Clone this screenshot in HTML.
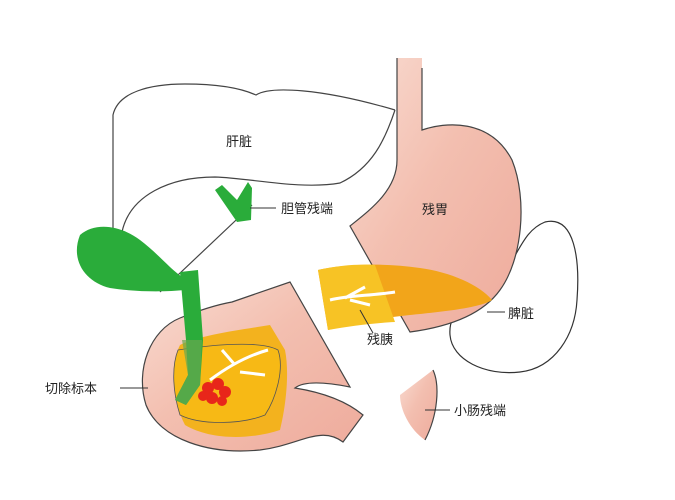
<!DOCTYPE html>
<html><head><meta charset="utf-8"><style>
html,body{margin:0;padding:0;background:#fff;}
svg{display:block;}
text{font-family:"Liberation Sans","Noto Sans CJK SC",sans-serif;font-size:13px;fill:#222;}
</style></head><body>
<svg width="675" height="500" viewBox="0 0 675 500" xmlns="http://www.w3.org/2000/svg">
<defs>
<linearGradient id="pk" x1="0" y1="0" x2="1" y2="1">
<stop offset="0" stop-color="#f9dcd2"/><stop offset="0.45" stop-color="#f3bfb0"/><stop offset="1" stop-color="#eeab9c"/>
</linearGradient>
</defs>
<!-- Liver -->
<path d="M113,232 L113,115 C118,92 150,84 185,84 C225,84 245,90 256,95 C270,86 320,88 395,110" fill="none" stroke="#444" stroke-width="1.2"/>
<path d="M395,110 C385,140 372,168 340,183 C300,190 250,178 215,177 C170,177 130,195 122,232" fill="none" stroke="#444" stroke-width="1.2"/>
<path d="M160,292 L252,205" fill="none" stroke="#444" stroke-width="1.2"/>
<!-- Spleen -->
<path d="M505,272 C520,250 525,230 545,222 C575,215 580,260 577,300 C575,335 555,368 520,372 C485,376 452,360 450,335 C448,310 470,300 490,300" fill="#fff" stroke="#333" stroke-width="1.2"/>
<!-- Stomach -->
<path d="M397,58 L422,58 L422,130 C445,122 490,118 512,160 C528,200 522,260 500,290 C480,318 440,328 410,332 L350,226 C370,210 397,190 397,160 Z" fill="url(#pk)" stroke="none"/>
<path d="M397,58 L397,160 C397,190 370,210 350,226 L410,332 C440,328 480,318 500,290 C522,260 528,200 512,160 C490,118 445,122 422,130 L422,68" fill="none" stroke="#444" stroke-width="1.2"/>
<!-- Pancreas -->
<path d="M318,270 C340,265 380,262 420,268 C450,272 480,285 492,300 C480,308 440,312 410,315 C380,318 360,322 328,330 Z" fill="#f2a51a"/>
<path d="M318,270 C340,265 360,264 375,265 L395,322 C375,323 350,326 328,330 Z" fill="#f7c325"/>
<path d="M330,300 C350,295 370,296 395,292 M345,298 L365,287 M350,300 L370,305" stroke="#fff" stroke-width="3" fill="none"/>
<path d="M360,310 L373,333" stroke="#333" stroke-width="1"/>
<!-- Duodenum -->
<path d="M232,302 L290,282 L350,387 C330,383 305,380 295,388 C320,392 345,400 363,415 L343,442 C320,425 300,445 260,450 C210,455 160,440 146,405 C135,370 150,330 180,318 C200,310 215,305 232,302 Z" fill="url(#pk)" stroke="#444" stroke-width="1.2"/>
<!-- pancreas head -->
<path d="M180,345 C200,335 240,330 270,325 L285,350 C290,375 285,410 280,430 C250,440 210,440 185,425 C172,400 170,365 180,345 Z" fill="#f3b21e"/>
<path d="M178,350 C210,345 260,340 278,350 C285,370 275,400 265,415 C240,425 200,425 180,415 C172,390 172,365 178,350 Z" fill="#f7b915" stroke="#555" stroke-width="0.8"/>
<path d="M210,380 C230,365 250,355 268,350 M235,365 L222,350 M240,372 L265,375" stroke="#fff" stroke-width="3" fill="none"/>
<!-- gallbladder & ducts -->
<path d="M80,235 C95,222 120,225 140,240 C160,255 175,275 188,280 L185,290 C165,292 135,292 110,288 C85,282 70,260 80,235 Z" fill="#2aac3a"/>
<path d="M180,272 L198,270 L203,340 L200,385 L186,405 L175,400 L188,375 L186,340 Z" fill="#2aac3a"/>
<path d="M182,340 L202,340 L200,385 L186,405 L175,400 L188,375 Z" fill="#68a850" opacity="0.7"/>
<path d="M215,190 L222,185 L237,200 L248,182 L252,188 L251,220 L237,222 Z" fill="#2aac3a"/>
<!-- tumor -->
<g fill="#e8261a">
<circle cx="208" cy="388" r="6"/><circle cx="218" cy="384" r="6"/><circle cx="225" cy="392" r="6"/><circle cx="212" cy="398" r="6"/><circle cx="222" cy="401" r="5"/><circle cx="203" cy="396" r="5"/>
</g>
<!-- small intestine stub -->
<path d="M400,395 L433,370 C440,385 438,415 425,440 C410,430 400,410 400,395 Z" fill="url(#pk)"/>
<path d="M433,370 C440,385 438,415 425,440" fill="none" stroke="#444" stroke-width="1.2"/>
<!-- label lines -->
<path d="M250,208 L276,208 M120,388 L148,388 M487,312 L505,312 M425,410 L450,410" stroke="#333" stroke-width="1"/>
<text x="226" y="146">肝脏</text>
<text x="281" y="213">胆管残端</text>
<text x="422" y="214">残胃</text>
<text x="367" y="344">残胰</text>
<text x="508" y="318">脾脏</text>
<text x="45" y="393">切除标本</text>
<text x="454" y="415">小肠残端</text>
</svg>
</body></html>
